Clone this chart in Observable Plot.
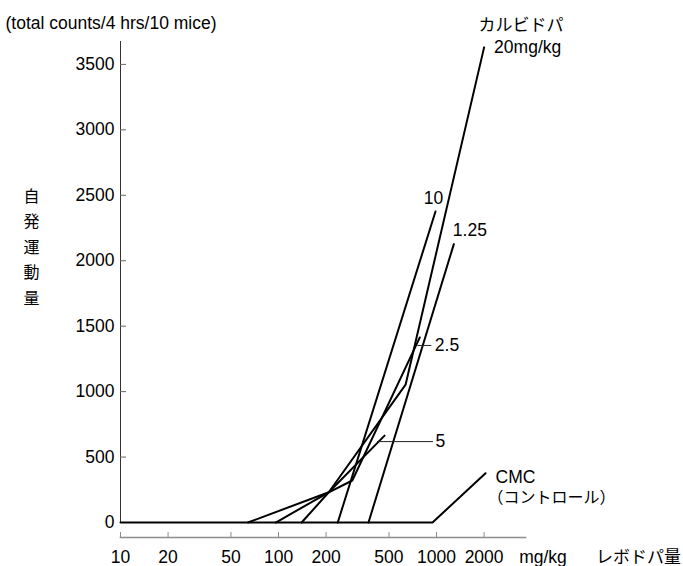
<!DOCTYPE html>
<html><head><meta charset="utf-8">
<script src="https://cdn.jsdelivr.net/npm/d3@7"></script>
<script src="https://cdn.jsdelivr.net/npm/@observablehq/plot@0.6"></script>
<style>
body{margin:0;background:#fff;}
#chart svg{display:block;}
</style></head><body><div id="chart"></div>
<script>
// Levodopa dose (mg/kg) and locomotor counts, per carbidopa dose
const dose_20   = [96, 208, 637, 2000];   const count_20   = [0, 231, 1053, 3630];
const dose_10   = [237, 985];             const count_10   = [0, 2376];
const dose_5    = [140, 208, 469];        const count_5    = [0, 231, 664];
const dose_2_5  = [64, 208, 293, 784];    const count_2_5  = [0, 231, 321, 1414];
const dose_1_25 = [371, 1287];            const count_1_25 = [0, 2127];
const dose_cmc  = [10, 943, 2042];        const count_cmc  = [0, 0, 376];

const seriesNames = ["20", "10", "5", "2.5", "1.25", "CMC"];
const seriesDoses = [dose_20, dose_10, dose_5, dose_2_5, dose_1_25, dose_cmc];
const seriesCounts = [count_20, count_10, count_5, count_2_5, count_1_25, count_cmc];

const xTicks = [10, 20, 50, 100, 200, 500, 1000, 2000];
const yTicks = [0, 500, 1000, 1500, 2000, 2500, 3000, 3500];

const yTitle = "(total counts/4 hrs/10 mice)";
const yLabel = "自\n発\n運\n動\n量";
const xUnit = "mg/kg";
const xLabel = "レボドパ量";

const rows = [];
seriesNames.forEach((s, i) => seriesDoses[i].forEach((d, j) => rows.push({series: s, dose: d, count: seriesCounts[i][j]})));
const endOf = s => { const i = seriesNames.indexOf(s); const n = seriesDoses[i].length; return {dose: seriesDoses[i][n-1], count: seriesCounts[i][n-1]}; };

const latin = "'Liberation Sans', Arial, Helvetica, 'Noto Sans CJK JP', sans-serif";
const FS = 17.5;
const W = 683, H = 566, ML = 120, MR = 158, MT = 41, MB = 29;

function endLabel(s, text, opts) {
  return Plot.text([endOf(s)], {x: "dose", y: "count", text: () => text, fontSize: FS, fill: "#000", ...opts});
}
function leader(s, lenPx, opts) {
  return Plot.ruleY([endOf(s)], {y: "count", x1: "dose", x2: d => d.dose * Math.pow(10, lenPx / 158), stroke: "#222", strokeWidth: 1, ...opts});
}

const chart = Plot.plot({
  width: W, height: H,
  marginLeft: ML, marginRight: MR, marginTop: MT, marginBottom: MB,
  x: {type: "log", domain: [10, 3656], axis: null},
  y: {domain: [-114.5, 3675], axis: null},
  style: {fontFamily: latin, fontSize: FS + "px", color: "#000", background: "#fff", overflow: "visible"},
  marks: [
    Plot.frame({anchor: "bottom", stroke: "#8c8c8c", strokeWidth: 1.6}),
    // x ticks (pointing up from the axis line) and labels
    Plot.tickX(xTicks, {x: d => d, stroke: "#8c8c8c", strokeWidth: 1, insetTop: (H - MT - MB) - 5}),
    Plot.text(xTicks, {x: d => d, frameAnchor: "bottom", lineAnchor: "middle", dy: 20, text: d => String(d), fontSize: FS}),
    // y axis
    Plot.ruleX([10], {y1: 0, y2: 3675, stroke: "#333", strokeWidth: 1}),
    Plot.tickY(yTicks, {y: d => d, stroke: "#666", strokeWidth: 1, insetRight: (W - ML - MR) - 6}),
    Plot.text(yTicks, {y: d => d, frameAnchor: "left", textAnchor: "end", dx: -6, text: d => String(d), fontSize: FS}),
    // series
    Plot.line(rows, {x: "dose", y: "count", z: "series", stroke: "#000", strokeWidth: 2, strokeLinejoin: "round"}),
    // line labels
    endLabel("20", "カルビドパ", {dx: 37, dy: -22, fontSize: 17, textAnchor: "middle"}),
    endLabel("20", "20mg/kg", {dx: 10, dy: 0, textAnchor: "start"}),
    endLabel("10", "10", {dx: -2, dy: -13, textAnchor: "middle"}),
    endLabel("1.25", "1.25", {dx: -1, dy: -14, textAnchor: "start"}),
    leader("2.5", 14, {dx: -2, dy: 8}),
    endLabel("2.5", "2.5", {dx: 15, dy: 8, textAnchor: "start"}),
    leader("5", 56, {dx: -7, dy: 6}),
    endLabel("5", "5", {dx: 51, dy: 6, textAnchor: "start"}),
    endLabel("CMC", "CMC", {dx: 10, dy: 4, textAnchor: "start"}),
    endLabel("CMC", "（コントロール）", {dx: 2, dy: 25, fontSize: 16, textAnchor: "start"}),
    // titles
    Plot.text([yTitle], {frameAnchor: "top-left", lineAnchor: "middle", dx: -115, dy: -18, textAnchor: "start", fontSize: FS}),
    Plot.text([yLabel], {frameAnchor: "top-left", lineAnchor: "middle", dx: -89, dy: 203, textAnchor: "middle", fontSize: 16, lineHeight: 1.6}),
    Plot.text([xUnit], {frameAnchor: "bottom-right", lineAnchor: "middle", dx: 17.5, dy: 20, textAnchor: "middle", fontSize: FS}),
    Plot.text([xLabel], {frameAnchor: "bottom-right", lineAnchor: "middle", dx: 113, dy: 20, textAnchor: "middle", fontSize: 17})
  ]
});
document.getElementById("chart").appendChild(chart);
</script>
</body></html>
